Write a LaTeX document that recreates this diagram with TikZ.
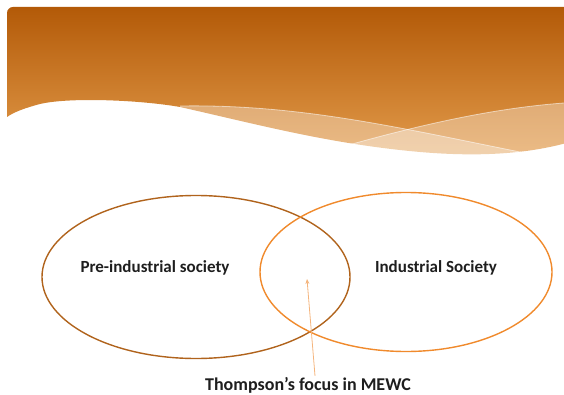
\documentclass[tikz,border=0pt]{standalone}
\usepackage{fontspec}
\setmainfont{Carlito}
\usetikzlibrary{shapes.geometric,arrows.meta}

\definecolor{bannertop}{HTML}{B35A08}
\definecolor{bannermid}{HTML}{D07E2C}
\definecolor{bannerbot}{HTML}{E39C4C}
\definecolor{preline}{HTML}{B0631C}
\definecolor{indline}{HTML}{F08A2C}
\definecolor{focusline}{HTML}{F4B47C}
\definecolor{settext}{HTML}{1E1E1E}

\tikzset{
  society/.style={ellipse, draw, line width=1.4pt, inner sep=0pt},
  setname/.style={font=\bfseries\fontsize{17}{20}\selectfont, text=settext, inner sep=1pt},
  focusarrow/.style={draw=focusline, line width=0.8pt, -{Stealth[length=5pt,width=4pt]}},
  band/.style={fill=white, fill opacity=0.33},
  bandline/.style={draw=white, draw opacity=0.55, line width=0.8pt}
}

\begin{document}
\begin{tikzpicture}[x=1pt,y=-1pt]
\useasboundingbox (0,0) rectangle (564,395);

% orange banner with the wave at its foot
\shade[top color=bannertop, middle color=bannermid, bottom color=bannerbot]
  (7,117) -- (7,13) arc[start angle=180, end angle=270, radius=6] -- (580,7) -- (580,139)
  .. controls (540,152) and (490,158) .. (420,152)
  .. controls (330,144) and (260,125) .. (180,107)
  .. controls (140,100) and (70,97) .. (40,104)
  .. controls (25,108) and (14,112) .. (7,117) -- cycle;

% lighter bands crossing the banner
\fill[band] (180,106) .. controls (300,104) and (400,128) .. (525,153) -- (525,170) -- (180,170) -- cycle;
\fill[band] (345,146) .. controls (420,125) and (500,106) .. (580,102) -- (580,170) -- (345,170) -- cycle;
\draw[bandline] (180,106) .. controls (300,104) and (400,128) .. (525,153);
\draw[bandline] (345,146) .. controls (420,125) and (500,106) .. (580,102);

% the two societies
\node[society, draw=preline, minimum width=308pt, minimum height=163pt] (pre) at (196,277) {};
\node[society, draw=indline, minimum width=292pt, minimum height=159pt] (ind) at (406,272) {};

\node[setname] (pretext) at (155,268) {Pre-industrial society};
\node[setname] (indtext) at (436,268) {Industrial Society};
\node[setname, font=\bfseries\fontsize{18}{21}\selectfont] (focus) at (308,385) {Thompson’s focus in MEWC};

\coordinate (overlap) at (307,279);
\draw[focusarrow] ([xshift=7pt]focus.north) -- (overlap);
\end{tikzpicture}
\end{document}
